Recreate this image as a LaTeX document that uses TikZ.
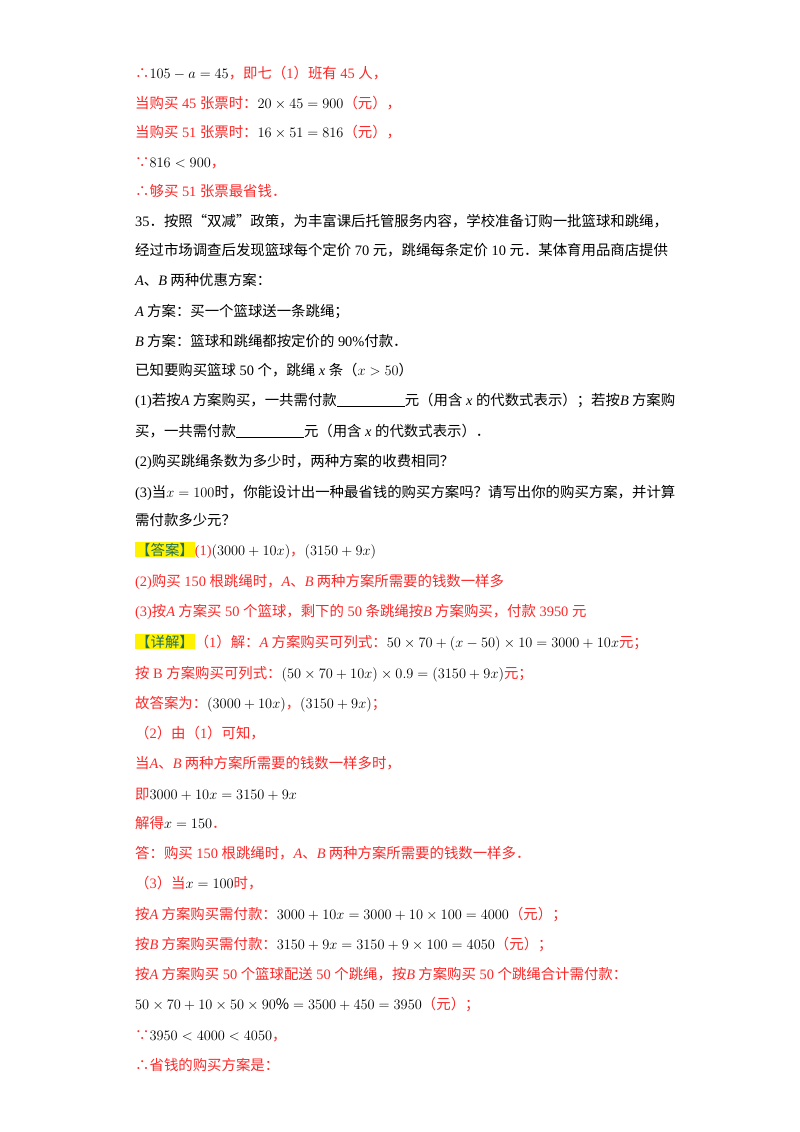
\documentclass[tikz,border=0pt]{standalone}
\usepackage{fontspec}
\setmainfont{Noto Sans CJK SC}
\newfontfamily\lat{Liberation Serif}
\definecolor{myred}{RGB}{250,40,40}
\definecolor{tagc}{RGB}{30,110,90}
\newcommand\blk[1]{\textcolor{black}{#1}}
\newcommand\tagbox[1]{{\setlength{\fboxsep}{1pt}\colorbox{yellow}{\textcolor{tagc}{#1}}}}
\newcommand\vA{{\lat\itshape A}}
\newcommand\vB{{\lat\itshape B}}
\newcommand\n[1]{{\lat #1}}
\tikzset{ln/.style={anchor=base west,inner sep=0pt,font=\fontsize{14.4}{16}\selectfont},
 rd/.style={ln,text=myred}, bl/.style={ln,text=black}}
\begin{document}
\begin{tikzpicture}[x=1pt,y=1pt]
\useasboundingbox (0,0) rectangle (800,-1132);
\node[rd] (l1) at (135,-78) {∴\blk{$105-a=45$}，即七（\n{1}）班有\n{ 45 }人，};
\node[rd] (l2) at (135,-108) {当购买\n{ 45 }张票时：\blk{$20\times45=900$}（元），};
\node[rd] (l3) at (135,-137) {当购买\n{ 51 }张票时：\blk{$16\times51=816$}（元），};
\node[rd] (l4) at (135,-167) {∵\blk{$816<900$}，};
\node[rd] (l5) at (135,-196) {∴够买\n{ 51 }张票最省钱．};
\node[bl] (l6) at (135,-226) {\n{35}．按照“双减”政策，为丰富课后托管服务内容，学校准备订购一批篮球和跳绳，};
\node[bl] (l7) at (135,-255) {经过市场调查后发现篮球每个定价\n{ 70 }元，跳绳每条定价\n{ 10 }元．某体育用品商店提供};
\node[bl] (l8) at (135,-285) {\vA、\vB\ 两种优惠方案：};
\node[bl] (l9) at (135,-316) {\vA\ 方案：买一个篮球送一条跳绳；};
\node[bl] (l10) at (135,-346) {\vB\ 方案：篮球和跳绳都按定价的\n{ 90\%}付款．};
\node[bl] (l11) at (135,-375) {已知要购买篮球\n{ 50 }个，跳绳\n{ \itshape x }条（$x>50$）};
\node[bl] (l12) at (135,-405) {\n{(1)}若按\vA\ 方案购买，一共需付款\underline{\hspace{68pt}}元（用含\n{ \itshape x }的代数式表示）；若按\vB\ 方案购};
\node[bl] (l13) at (135,-436) {买，一共需付款\underline{\hspace{68pt}}元（用含\n{ \itshape x }的代数式表示）．};
\node[bl] (l14) at (135,-466) {\n{(2)}购买跳绳条数为多少时，两种方案的收费相同？};
\node[bl] (l15) at (135,-497) {\n{(3)}当\blk{$x=100$}时，你能设计出一种最省钱的购买方案吗？请写出你的购买方案，并计算};
\node[bl] (l16) at (135,-525) {需付款多少元？};
\node[rd] (l17) at (135,-555) {\tagbox{【答案】}\n{(1)}\blk{$\left(3000+10x\right)$}，\blk{$\left(3150+9x\right)$}};
\node[rd] (l18) at (135,-586) {\n{(2)}购买\n{ 150 }根跳绳时，\vA、\vB\ 两种方案所需要的钱数一样多};
\node[rd] (l19) at (135,-616) {\n{(3)}按\vA\ 方案买\n{ 50 }个篮球，剩下的\n{ 50 }条跳绳按\vB\ 方案购买，付款\n{ 3950 }元};
\node[rd] (l20) at (135,-647) {\tagbox{【详解】}（\n{1}）解：\vA\ 方案购买可列式：\blk{$50\times70+\left(x-50\right)\times10=3000+10x$}元；};
\node[rd] (l21) at (135,-678) {按\n{ B }方案购买可列式：\blk{$\left(50\times70+10x\right)\times0.9=\left(3150+9x\right)$}元；};
\node[rd] (l22) at (135,-708) {故答案为：\blk{$\left(3000+10x\right)$}，\blk{$\left(3150+9x\right)$}；};
\node[rd] (l23) at (135,-738) {（\n{2}）由（\n{1}）可知，};
\node[rd] (l24) at (135,-768) {当\vA、\vB\ 两种方案所需要的钱数一样多时，};
\node[rd] (l25) at (135,-799) {即\blk{$3000+10x=3150+9x$}};
\node[rd] (l26) at (135,-828) {解得\blk{$x=150$}．};
\node[rd] (l27) at (135,-858) {答：购买\n{ 150 }根跳绳时，\vA、\vB\ 两种方案所需要的钱数一样多．};
\node[rd] (l28) at (135,-888) {（\n{3}）当\blk{$x=100$}时，};
\node[rd] (l29) at (135,-919) {按\vA\ 方案购买需付款：\blk{$3000+10x=3000+10\times100=4000$}（元）；};
\node[rd] (l30) at (135,-949) {按\vB\ 方案购买需付款：\blk{$3150+9x=3150+9\times100=4050$}（元）；};
\node[rd] (l31) at (135,-979) {按\vA\ 方案购买\n{ 50 }个篮球配送\n{ 50 }个跳绳，按\vB\ 方案购买\n{ 50 }个跳绳合计需付款：};
\node[rd] (l32) at (135,-1009) {\blk{$50\times70+10\times50\times90\%=3500+450=3950$}（元）；};
\node[rd] (l33) at (135,-1040) {∵\blk{$3950<4000<4050$}，};
\node[rd] (l34) at (135,-1070) {∴省钱的购买方案是：};
\end{tikzpicture}
\end{document}
